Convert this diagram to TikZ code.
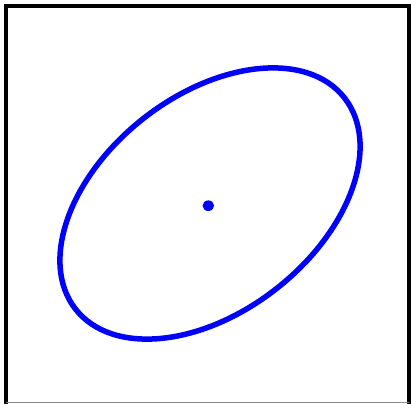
\documentclass[tikz,border=0pt]{standalone}
\begin{document}
\begin{tikzpicture}[x=1pt,y=-1pt,
  frame/.style={draw=black,line width=4pt},
  edgeline/.style={draw=black!45,line width=1pt},
  orbit/.style={draw=blue,line width=5.5pt},
  centerdot/.style={fill=blue}]
\useasboundingbox (0,0) rectangle (411,403);
\clip (0,0) rectangle (411,403);
\fill[white] (0,0) rectangle (411,403);
\draw[frame] (6,6) rectangle (408.7,406);
\coordinate (bl) at (6,402.5);
\coordinate (br) at (408.7,402.5);
\draw[edgeline] (bl) -- (br);
\coordinate (c) at (210,203.5);
\draw[orbit] (c) ellipse [x radius=171, y radius=108, rotate=38.2];
\fill[centerdot] (208.3,205.7) ellipse [x radius=5.8, y radius=5.3];
\end{tikzpicture}
\end{document}
